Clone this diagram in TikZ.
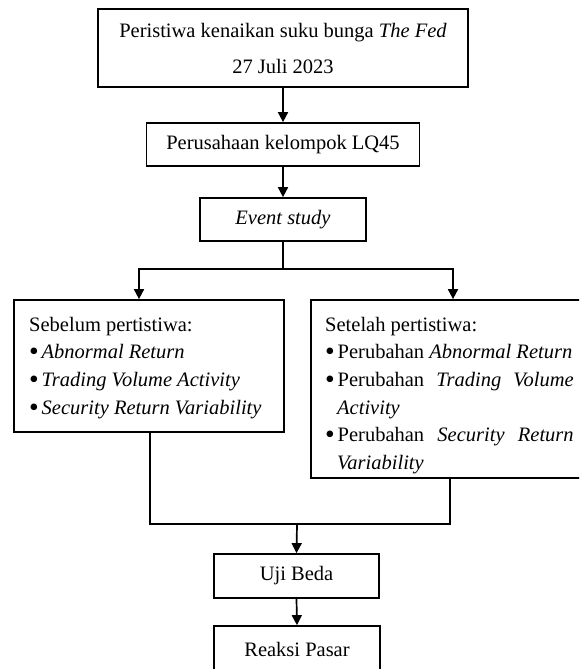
\documentclass[tikz,border=0pt]{standalone}
\usepackage{fontspec}
\setmainfont{Liberation Serif}
\usetikzlibrary{arrows.meta}
\newcommand{\bul}{\makebox[12.5pt][l]{\raisebox{-2.6pt}{\scalebox{1.35}{\textbullet}}}}
\begin{document}
\begin{tikzpicture}[x=1pt,y=-1pt,
  box/.style={draw,line width=1.7pt,inner sep=0pt,font=\fontsize{20.5}{24}\selectfont},
  txt/.style={inner sep=0pt,anchor=base west,font=\fontsize{20.5}{24}\selectfont},
  arr/.style={line width=1.7pt,-{Triangle[length=10pt,width=10pt]}},
  ln/.style={line width=1.7pt}]
\useasboundingbox (0,0) rectangle (579,669);
\clip (0,0) rectangle (579,669);

\node[box,minimum width=370pt,minimum height=78pt,align=center,font=\fontsize{20.5}{36}\selectfont] (fed) at (283,48) {Peristiwa kenaikan suku bunga \textit{The Fed}\\27 Juli 2023};
\node[box,minimum width=273pt,minimum height=43pt] (lq) at (283,144.5) {Perusahaan kelompok LQ45};
\node[box,minimum width=166pt,minimum height=43pt] (es) at (283,219.5) {\textit{Event study}};

\node[box,minimum width=270pt,minimum height=132pt] (before) at (149,366) {};
\node[box,minimum width=278pt,minimum height=178pt] (after) at (450,389) {};

\node[txt] (l0) at (29,331) {Sebelum pertistiwa:};
\node[txt] (l1) at (29,358) {\bul\textit{Abnormal Return}};
\node[txt] (l2) at (29,386) {\bul\textit{Trading Volume Activity}};
\node[txt] (l3) at (29,414) {\bul\textit{Security Return Variability}};

\node[txt] (r0) at (325,331) {Setelah pertistiwa:};
\node[txt] (r1) at (325,358) {\bul Perubahan \textit{Abnormal Return}};
\node[txt] (r2) at (325,386) {\bul\makebox[236pt][s]{Perubahan \textit{Trading} \textit{Volume}}};
\node[txt] (r3) at (337,414) {\textit{Activity}};
\node[txt] (r4) at (325,441) {\bul\makebox[236pt][s]{Perubahan \textit{Security} \textit{Return}}};
\node[txt] (r5) at (337,469) {\textit{Variability}};

\node[box,minimum width=165pt,minimum height=44pt] (uji) at (296.5,576) {Uji Beda};
\node[box,minimum width=166pt,minimum height=46pt] (reaksi) at (297,649) {Reaksi Pasar};

\draw[arr] (fed.south) -- (lq.north);
\draw[arr] (lq.south) -- (es.north);
\coordinate (split) at (283,269);
\coordinate (bl) at (139,269);
\coordinate (br) at (453,269);
\draw[ln] (es.south) -- (split);
\draw[arr] (split) -- (bl) -- (bl |- before.north);
\draw[arr] (split) -- (br) -- (br |- after.north);

\coordinate (ml) at (150,524);
\coordinate (mr) at (450,524);
\coordinate (merge) at (297,524);
\draw[ln] (before.south -| ml) -- (ml) -- (mr) -- (after.south -| mr);
\draw[arr] (merge) -- (uji.north);
\draw[arr] (uji.south) -- (reaksi.north);
\end{tikzpicture}
\end{document}
